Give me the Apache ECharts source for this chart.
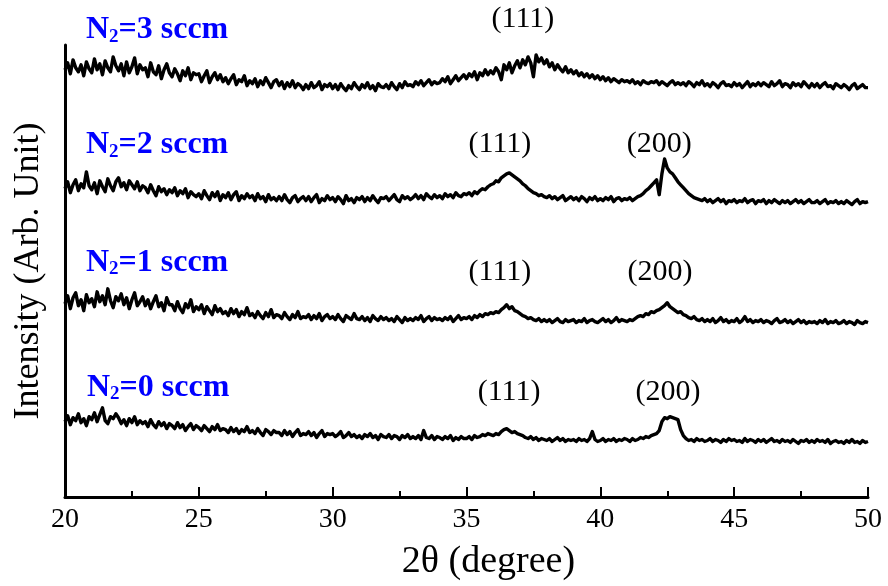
<!DOCTYPE html>
<html><head><meta charset="utf-8">
<script src="https://cdn.jsdelivr.net/npm/echarts@6/dist/echarts.min.js"></script>
<style>html,body{margin:0;padding:0;background:#fff}#c{width:888px;height:586px}</style>
</head><body><div id="c"></div>
<script>
// Scan grid: 2-theta from 20 to 50 deg, step 0.1 deg
const scanStart = 20, scanStep = 0.1, scanCount = 301;
const twoTheta = [];
for (let i = 0; i < scanCount; i++) twoTheta.push(+(scanStart + i * scanStep).toFixed(1));

// Intensities (arbitrary units; curves stacked with offsets as in the figure), one row per degree
const n2_3 = [
 431,438,427,441,433,429,436,425,439,432,
 428,442,431,437,426,440,433,429,444,435,
 430,437,425,439,428,434,443,427,436,431,
 433,424,438,429,426,435,422,431,437,428,
 424,432,427,420,430,425,433,421,428,426,
 427,419,425,430,418,424,428,421,426,419,
 423,417,422,426,416,421,419,425,415,420,
 417,422,414,420,416,423,418,413,419,421,
 415,419,412,418,414,420,413,417,415,411,
 416,412,418,413,415,419,411,416,414,417,
 412,416,411,417,413,410,415,412,418,414,
 411,416,413,418,412,415,410,417,414,413,
 416,412,418,414,411,417,413,419,415,416,
 414,419,416,420,415,418,421,416,419,417,
 418,422,419,424,417,421,425,420,423,426,
 422,427,424,429,421,428,425,431,426,430,
 427,433,429,421,436,431,438,428,435,440,
 433,441,436,444,438,424,446,439,443,437,
 441,434,438,431,436,432,429,434,428,431,
 427,430,425,428,424,427,423,426,422,425,
 421,424,420,423,419,422,420,418,421,419,
 420,418,421,417,419,416,420,418,417,419,
 418,420,416,419,417,415,418,420,416,418,
 416,418,415,419,417,414,418,416,420,415,
 417,414,418,416,413,417,419,415,416,414,
 418,415,417,413,416,419,414,417,415,418,
 415,418,416,414,419,415,417,420,414,417,
 416,413,418,415,417,414,419,416,413,417,
 414,417,413,416,418,414,415,412,417,415,
 413,416,414,411,415,417,412,414,416,413,
 413];
const n2_2 = [
 311,318,307,315,320,309,316,312,328,314,
 310,317,306,319,313,308,321,314,309,318,
 322,313,317,310,319,315,311,318,309,314,
 312,307,315,309,304,313,308,311,305,310,
 307,312,304,309,306,311,302,308,305,303,
 306,301,309,304,300,307,303,308,299,305,
 302,307,300,305,308,299,304,301,306,302,
 304,299,306,301,303,298,305,300,302,299,
 303,299,305,300,297,302,304,298,301,303,
 299,303,298,302,305,297,301,299,304,300,
 302,298,303,300,296,304,299,301,297,302,
 300,303,298,302,299,304,300,297,302,301,
 303,299,302,305,300,298,304,301,303,300,
 302,305,301,304,300,306,303,301,305,302,
 304,301,306,303,305,302,307,304,303,306,
 305,307,304,308,306,309,311,310,313,315,
 316,319,318,322,324,326,327,325,323,321,
 319,316,314,311,309,307,306,304,305,303,
 302,304,301,303,300,302,304,299,301,303,
 300,302,299,303,301,298,302,300,303,299,
 301,299,302,300,303,298,301,302,299,301,
 300,302,299,301,303,304,306,309,311,314,
 317,320,305,326,341,332,328,326,322,318,
 315,312,309,306,304,302,301,300,299,301,
 298,300,297,299,301,298,300,296,299,298,
 300,297,299,298,301,297,299,300,296,299,
 298,300,296,299,297,300,298,296,299,297,
 299,296,298,300,297,299,296,298,300,297,
 297,299,296,298,300,296,298,297,299,296,
 298,296,299,297,295,298,300,296,298,297,
 298];
const n2_1 = [
 195,203,190,201,206,193,199,188,204,196,
 200,192,207,197,203,194,210,198,191,202,
 198,205,194,201,190,199,206,193,197,202,
 193,199,190,197,203,192,196,188,201,194,
 194,188,197,190,186,195,191,199,187,192,
 189,194,185,192,188,184,193,187,190,185,
 187,183,190,185,189,182,187,184,191,183,
 185,181,187,183,180,186,182,189,181,184,
 183,180,186,182,179,184,181,187,180,182,
 181,184,179,183,180,185,178,182,184,180,
 182,179,184,180,177,183,181,179,185,180,
 179,182,178,181,177,183,180,178,182,179,
 181,178,180,177,182,179,176,181,178,180,
 178,181,179,183,177,180,182,178,181,179,
 180,178,181,179,182,177,180,183,179,181,
 180,182,179,183,181,184,182,185,184,186,
 185,187,186,189,191,194,190,192,188,187,
 185,183,182,180,181,179,178,180,177,179,
 177,179,176,178,180,177,176,179,177,178,
 179,176,178,177,180,176,178,179,177,176,
 178,180,177,179,176,178,181,177,179,178,
 177,179,178,180,182,183,182,185,184,187,
 186,188,189,191,193,196,192,190,188,186,
 187,184,183,181,180,182,179,178,180,177,
 179,177,180,176,178,181,177,179,176,178,
 177,180,176,178,182,177,179,176,178,177,
 179,176,178,177,175,178,180,176,177,179,
 176,178,175,177,179,176,178,175,177,176,
 177,175,178,176,179,175,177,176,178,175,
 176,178,175,177,176,174,178,176,175,177,
 176];
const n2_0 = [
 76,82,73,80,77,84,75,79,72,81,
 78,85,76,83,90,77,74,81,79,84,
 80,74,78,72,79,75,81,73,77,74,
 76,71,78,73,70,76,72,75,69,74,
 72,69,75,70,73,67,71,74,68,72,
 70,67,72,69,66,71,68,73,67,69,
 68,65,70,66,69,64,68,66,71,65,
 67,64,69,65,62,68,66,63,67,65,
 65,62,67,63,66,61,65,68,62,64,
 63,66,62,65,60,64,67,61,64,63,
 64,61,63,66,60,62,65,61,63,60,
 62,59,63,61,64,60,62,58,63,61,
 60,63,59,62,61,58,62,60,63,59,
 61,59,62,58,67,60,59,62,58,61,
 60,58,61,59,62,57,60,58,61,59,
 59,61,58,62,60,61,63,62,64,63,
 62,64,63,66,68,69,67,65,66,64,
 63,62,60,59,61,58,60,57,59,58,
 57,59,56,58,60,57,59,56,58,57,
 58,56,59,57,58,56,59,66,58,56,
 57,59,56,58,57,59,56,58,57,59,
 58,56,59,57,58,60,59,61,60,62,
 63,64,67,76,80,79,81,80,79,78,
 68,62,59,57,58,56,59,57,58,56,
 57,59,56,58,57,55,58,56,59,57,
 58,56,57,55,59,56,58,57,55,58,
 56,58,55,57,59,56,57,55,58,56,
 57,55,58,56,54,57,56,58,55,57,
 55,58,56,57,55,58,54,56,57,55,
 56,54,57,55,58,55,56,54,57,55,
 56];

const sampleNames = ['3', '2', '1', '0'];
const sampleSeries = [n2_3, n2_2, n2_1, n2_0];
// sample label anchors [2theta, intensity]
const sampleLabelAt = [[20.78, 471], [20.78, 355], [20.78, 236], [20.82, 110]];
// peak labels [2theta, intensity, text]
const peakLabels = [
  [37.11, 482, '(111)'],
  [36.25, 356, '(111)'], [42.2, 356, '(200)'],
  [36.25, 227, '(111)'], [42.23, 227, '(200)'],
  [36.59, 106, '(111)'], [42.53, 106, '(200)']
];
const xTicks = [20, 25, 30, 35, 40, 45, 50];

const serif = 'Liberation Serif, Times New Roman, serif';
const series = sampleSeries.map(vals => ({
  type: 'line', showSymbol: false, symbol: 'none', animation: false,
  data: vals.map((v, i) => [twoTheta[i], v]),
  lineStyle: { color: '#000', width: 3.4, join: 'round' }, clip: false, silent: true
}));
series.push({
  type: 'scatter', symbolSize: 0, clip: false, silent: true, animation: false,
  itemStyle: { opacity: 1 },
  data: sampleLabelAt.map((p, i) => ({ value: p, name: sampleNames[i] })),
  label: {
    show: true, position: 'right', distance: 0,
    formatter: p => '{n|N}{s|2}{n|=' + p.name + ' sccm}',
    rich: {
      n: { fontFamily: serif, fontWeight: 'bold', fontSize: 32, color: '#0000ff', lineHeight: 32 },
      s: { fontFamily: serif, fontWeight: 'bold', fontSize: 19, color: '#0000ff', lineHeight: 19, padding: [13, 0, 0, 0], verticalAlign: 'bottom' }
    }
  }
});
series.push({
  type: 'scatter', symbolSize: 0, clip: false, silent: true, animation: false,
  itemStyle: { opacity: 1 },
  data: peakLabels.map(p => ({ value: [p[0], p[1]], name: p[2] })),
  label: {
    show: true, position: 'inside', formatter: p => p.name,
    fontFamily: serif, fontSize: 30, color: '#000'
  }
});

const chart = echarts.init(document.getElementById('c'), null, { renderer: 'canvas' });
chart.setOption({
  backgroundColor: '#fff',
  animation: false,
  grid: { left: 65, right: 20, top: 45, bottom: 85, containLabel: false },
  xAxis: {
    type: 'value', min: 20, max: 50, interval: 5,
    name: '2θ (degree)', nameLocation: 'middle', nameGap: 46,
    nameTextStyle: { fontFamily: serif, fontSize: 38, color: '#000', padding: [0, 0, 0, 44] },
    axisLine: { show: true, onZero: false, lineStyle: { color: '#000', width: 3 } },
    axisTick: { show: true, inside: true, length: 10, lineStyle: { color: '#000', width: 2 } },
    minorTick: { show: true, splitNumber: 2, length: 6, lineStyle: { color: '#000', width: 2 } },
    axisLabel: { fontFamily: serif, fontSize: 28, color: '#000', margin: 9,
      formatter: v => xTicks.includes(v) ? String(v) : '' },
    splitLine: { show: false }
  },
  yAxis: {
    type: 'value', min: 0, max: 456,
    name: 'Intensity (Arb. Unit)', nameLocation: 'middle', nameGap: 18,
    nameTextStyle: { fontFamily: serif, fontSize: 36, color: '#000' },
    axisLine: { show: true, onZero: false, lineStyle: { color: '#000', width: 3 } },
    axisTick: { show: false }, axisLabel: { show: false }, splitLine: { show: false }
  },
  series
});
</script></body></html>
